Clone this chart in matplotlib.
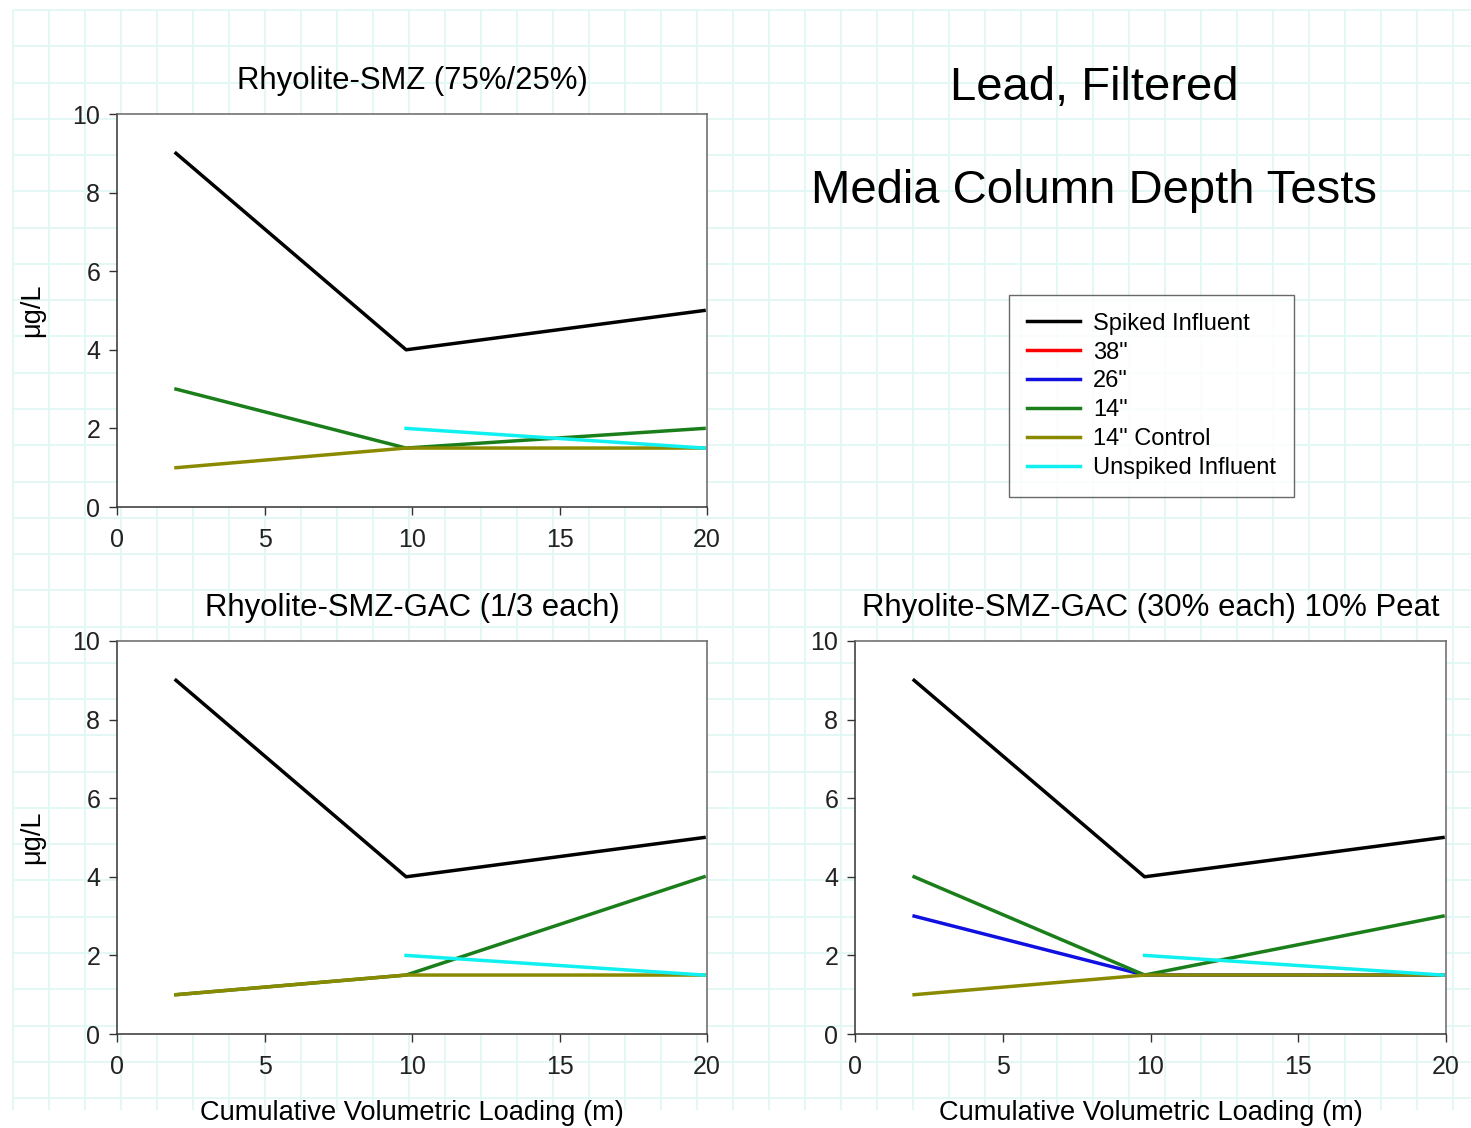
"""Lead, filtered: media column depth tests."""

import matplotlib
matplotlib.use("Agg")
import matplotlib.pyplot as plt
import numpy as np

plt.rcParams["font.family"] = ["Liberation Sans", "DejaVu Sans"]

# cumulative volumetric loading (m) at each sampling event
loading = np.array([2.0, 9.8, 19.9])

series_names = ["Spiked Influent", "38\"", "26\"", "14\"", "14\" Control", "Unspiked Influent"]
series_colors = ["#000000", "#ff0000", "#1010e0", "#1a7f1a", "#8a8a00", "#10f0f0"]

# lead concentrations (ug/L), one list per series, per panel
nan = np.nan
smz_75_25 = [
    [9, 4, 5],
    [nan, nan, nan],
    [nan, nan, nan],
    [3, 1.5, 2],
    [1, 1.5, 1.5],
    [nan, 2, 1.5],
]
smz_gac_thirds = [
    [9, 4, 5],
    [nan, nan, nan],
    [nan, nan, nan],
    [1, 1.5, 4],
    [1, 1.5, 1.5],
    [nan, 2, 1.5],
]
smz_gac_peat = [
    [9, 4, 5],
    [nan, nan, nan],
    [3, 1.5, 1.5],
    [4, 1.5, 3],
    [1, 1.5, 1.5],
    [nan, 2, 1.5],
]

W, H = 1471, 1128
fig = plt.figure(figsize=(W / 100, H / 100), dpi=100)
fig.patch.set_facecolor("white")

# graph-paper background
bg = fig.add_axes([0, 0, 1, 1], zorder=-5)
bg.set_xlim(0, W)
bg.set_ylim(H, 0)
bg.axis("off")
gx = np.arange(13, 1460, 36)
gy = np.arange(10, 1105, 36.27)
bg.vlines(gx, 10, 1110, color="#e0f8f4", lw=1.3)
bg.hlines(gy, 13, 1471, color="#e0f8f4", lw=1.3)


def make_panel(rect, title, data, xlabel=None, ylabel=None):
    ax = fig.add_axes(rect)
    for vals, name, col in zip(data, series_names, series_colors):
        ax.plot(loading, vals, color=col, lw=2.5, label=name)
    ax.set_xlim(0, 20)
    ax.set_ylim(0, 10)
    ax.set_xticks([0, 5, 10, 15, 20])
    ax.set_yticks([0, 2, 4, 6, 8, 10])
    ax.set_title(title, fontsize=22.4, pad=18)
    ax.tick_params(direction="out", length=6, width=1, labelsize=18,
                   labelcolor="#222222", color="#333333")
    ax.tick_params(axis="x", pad=9)
    ax.tick_params(axis="y", pad=6)
    for side in ("top", "right"):
        ax.spines[side].set_color("#666666")
    for side in ("left", "bottom"):
        ax.spines[side].set_color("#333333")
    for sp in ax.spines.values():
        sp.set_linewidth(1.1)
    if xlabel:
        ax.set_xlabel(xlabel, fontsize=19.6, labelpad=15)
    if ylabel:
        ax.set_ylabel(ylabel, fontsize=19.5, labelpad=20)
    return ax


def rect_px(left, top, right, bottom):
    return [left / W, 1 - bottom / H, (right - left) / W, (bottom - top) / H]


ax1 = make_panel(rect_px(117, 114, 707, 507), "Rhyolite-SMZ (75%/25%)",
                 smz_75_25, ylabel="μg/L")
ax2 = make_panel(rect_px(117, 641, 707, 1034), "Rhyolite-SMZ-GAC (1/3 each)",
                 smz_gac_thirds, xlabel="Cumulative Volumetric Loading (m)",
                 ylabel="μg/L")
ax3 = make_panel(rect_px(855, 641, 1446, 1034), "Rhyolite-SMZ-GAC (30% each) 10% Peat",
                 smz_gac_peat, xlabel="Cumulative Volumetric Loading (m)")

fig.text(1094 / W, 1 - 100 / H, "Lead, Filtered", fontsize=34,
         ha="center", va="baseline")
fig.text(1094 / W, 1 - 203 / H, "Media Column Depth Tests", fontsize=34,
         ha="center", va="baseline")

handles, labels = ax1.get_legend_handles_labels()
leg = fig.legend(handles, labels, loc="upper left",
                 bbox_to_anchor=(1009 / W, 1 - 295 / H), borderaxespad=0,
                 fontsize=17, frameon=True, fancybox=False, edgecolor="#444444",
                 handlelength=2.25, handletextpad=0.55, labelspacing=0.29,
                 borderpad=0.75)
leg.get_frame().set_linewidth(1.0)

fig.savefig("out.png", dpi=100, facecolor="white")
